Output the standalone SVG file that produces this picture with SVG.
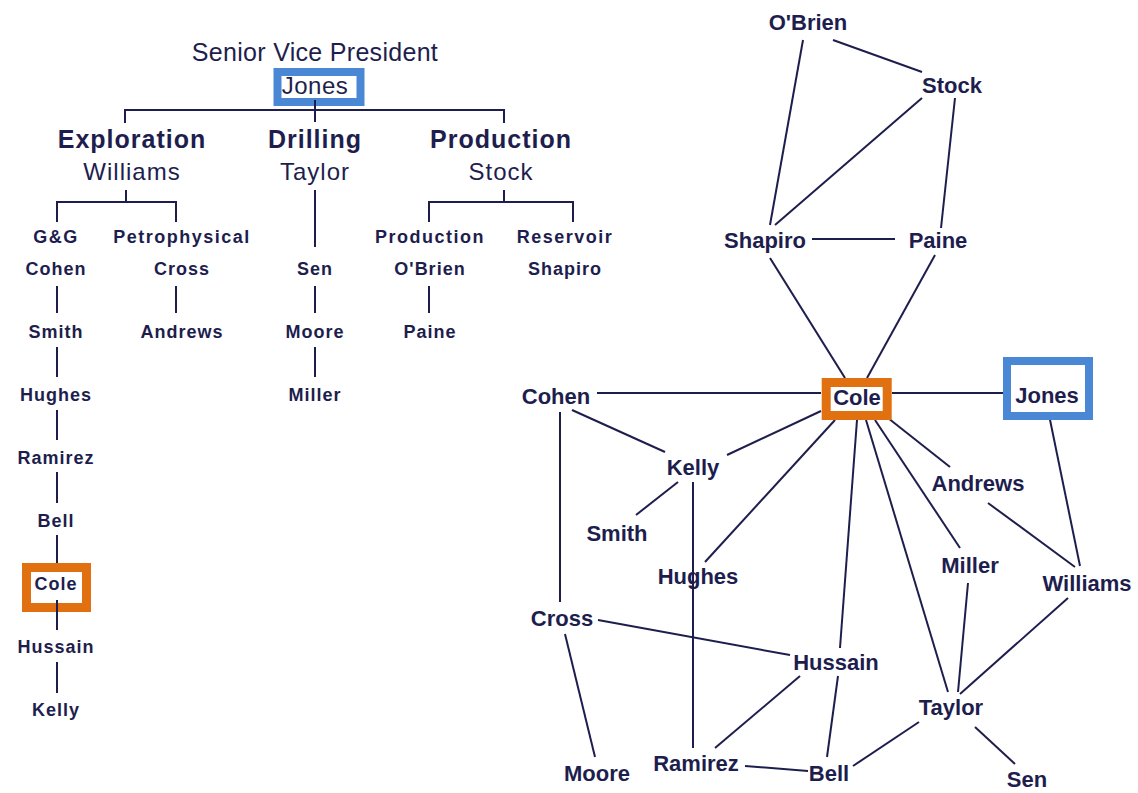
<svg xmlns="http://www.w3.org/2000/svg" width="1138" height="793" viewBox="0 0 1138 793">
<style>
text{font-family:"Liberation Sans",Arial,sans-serif;fill:#1e1e4e;text-anchor:middle}
.t1{font-size:25px;letter-spacing:0.3px}
.h1{font-size:25px;font-weight:bold;letter-spacing:1px}
.r1{font-size:24px;letter-spacing:1px}
.h2{font-size:18px;font-weight:bold;letter-spacing:1.5px}
.n2{font-size:18px;font-weight:bold;letter-spacing:1px}
.g{font-size:22px;font-weight:bold}
.gr{font-size:24px;letter-spacing:0.5px}
.ln line,.ln polyline{stroke:#1e1e4e;stroke-width:2;fill:none}
.bo{fill:#fff;stroke:#e07010;stroke-width:9}
.bb{fill:#fff;stroke:#4a88d6;stroke-width:8}
</style>
<rect width="1138" height="793" fill="#fff"/>

<!-- Left tree nodes -->
<g id="svp"><text class="t1" x="315" y="61">Senior Vice President</text></g>
<g id="t-jones"><rect class="bb" x="277.5" y="72" width="83" height="30"/><text class="gr" x="315" y="94">Jones</text></g>
<g id="t-exploration"><text class="h1" x="132" y="148">Exploration</text><text class="r1" x="132" y="180">Williams</text></g>
<g id="t-drilling"><text class="h1" x="315" y="148">Drilling</text><text class="r1" x="315" y="180">Taylor</text></g>
<g id="t-production"><text class="h1" x="501" y="148">Production</text><text class="r1" x="501" y="180">Stock</text></g>
<g id="t-gg"><text class="h2" x="56" y="243">G&amp;G</text><text class="n2" x="56" y="275">Cohen</text></g>
<g id="t-petro"><text class="h2" x="182" y="243">Petrophysical</text><text class="n2" x="182" y="275">Cross</text></g>
<g id="t-prod2"><text class="h2" x="430" y="243">Production</text><text class="n2" x="430" y="275">O'Brien</text></g>
<g id="t-res"><text class="h2" x="565" y="243">Reservoir</text><text class="n2" x="565" y="275">Shapiro</text></g>
<g id="t-sen"><text class="n2" x="315" y="275">Sen</text></g>
<g id="t-smith"><text class="n2" x="56" y="338">Smith</text></g>
<g id="t-andrews"><text class="n2" x="182" y="338">Andrews</text></g>
<g id="t-moore"><text class="n2" x="315" y="338">Moore</text></g>
<g id="t-paine"><text class="n2" x="430" y="338">Paine</text></g>
<g id="t-hughes"><text class="n2" x="56" y="401">Hughes</text></g>
<g id="t-miller"><text class="n2" x="315" y="401">Miller</text></g>
<g id="t-ramirez"><text class="n2" x="56" y="464">Ramirez</text></g>
<g id="t-bell"><text class="n2" x="56" y="527">Bell</text></g>
<g id="t-cole"><rect class="bo" x="26.5" y="567.5" width="60" height="40"/><text class="n2" x="56" y="590">Cole</text></g>
<g id="t-hussain"><text class="n2" x="56" y="653">Hussain</text></g>
<g id="t-kelly"><text class="n2" x="56" y="716">Kelly</text></g>

<!-- Left tree connectors -->
<g id="tree-connectors" class="ln">
<line x1="315" y1="100" x2="315" y2="110"/>
<polyline points="125,123 125,110 504,110 504,123"/>
<line x1="315" y1="110" x2="315" y2="122"/>
<line x1="126" y1="190" x2="126" y2="202"/>
<polyline points="57,222 57,202 176,202 176,222"/>
<line x1="315" y1="190" x2="315" y2="247"/>
<line x1="504" y1="190" x2="504" y2="202"/>
<polyline points="429,222 429,202 573,202 573,222"/>
<line x1="57" y1="286" x2="57" y2="313"/>
<line x1="57" y1="347" x2="57" y2="377"/>
<line x1="57" y1="410" x2="57" y2="440"/>
<line x1="57" y1="472" x2="57" y2="503"/>
<line x1="57" y1="535" x2="57" y2="563"/>
<line x1="57" y1="600" x2="57" y2="630"/>
<line x1="57" y1="662" x2="57" y2="693"/>
<line x1="176" y1="286" x2="176" y2="313"/>
<line x1="315" y1="286" x2="315" y2="313"/>
<line x1="315" y1="347" x2="315" y2="377"/>
<line x1="429" y1="286" x2="429" y2="313"/>
</g>

<!-- Network connectors -->
<g id="net-connectors" class="ln">
<line x1="833" y1="40" x2="922" y2="72"/>
<line x1="803" y1="40" x2="770" y2="225"/>
<line x1="922" y1="98" x2="775" y2="225"/>
<line x1="955" y1="98" x2="941" y2="228"/>
<line x1="812" y1="239" x2="895" y2="239"/>
<line x1="770" y1="258" x2="845" y2="378"/>
<line x1="935" y1="255" x2="867" y2="378"/>
<line x1="597" y1="393" x2="821" y2="393"/>
<line x1="892" y1="393" x2="1003" y2="393"/>
<line x1="572" y1="410" x2="665" y2="452"/>
<line x1="821" y1="411" x2="727" y2="455"/>
<line x1="678" y1="482" x2="636" y2="515"/>
<line x1="693" y1="482" x2="693" y2="748"/>
<line x1="835" y1="420" x2="705" y2="562"/>
<line x1="857" y1="420" x2="840" y2="648"/>
<line x1="866" y1="420" x2="948" y2="692"/>
<line x1="875" y1="420" x2="960" y2="548"/>
<line x1="888" y1="418" x2="950" y2="467"/>
<line x1="1048" y1="410" x2="1080" y2="566"/>
<line x1="988" y1="503" x2="1075" y2="567"/>
<line x1="968" y1="583" x2="958" y2="692"/>
<line x1="1068" y1="598" x2="960" y2="694"/>
<line x1="560" y1="412" x2="560" y2="602"/>
<line x1="598" y1="620" x2="790" y2="655"/>
<line x1="565" y1="634" x2="595" y2="757"/>
<line x1="800" y1="676" x2="715" y2="748"/>
<line x1="838" y1="676" x2="827" y2="757"/>
<line x1="745" y1="766" x2="808" y2="771"/>
<line x1="853" y1="766" x2="919" y2="722"/>
<line x1="975" y1="727" x2="1015" y2="764"/>
</g>

<!-- Network nodes -->
<g id="n-obrien"><text class="g" x="808" y="30">O'Brien</text></g>
<g id="n-stock"><text class="g" x="952" y="93">Stock</text></g>
<g id="n-shapiro"><text class="g" x="765" y="248">Shapiro</text></g>
<g id="n-paine"><text class="g" x="938" y="248">Paine</text></g>
<g id="n-cole"><rect class="bo" x="826.2" y="382.5" width="61" height="33"/><text class="g" x="857" y="405">Cole</text></g>
<g id="n-jones"><rect class="bb" x="1007" y="361" width="82" height="55"/><text class="g" x="1047" y="403">Jones</text></g>
<g id="n-cohen"><text class="g" x="556" y="404">Cohen</text></g>
<g id="n-kelly"><text class="g" x="693" y="475">Kelly</text></g>
<g id="n-smith"><text class="g" x="617" y="541">Smith</text></g>
<g id="n-andrews"><text class="g" x="978" y="491">Andrews</text></g>
<g id="n-hughes"><text class="g" x="698" y="584">Hughes</text></g>
<g id="n-miller"><text class="g" x="970" y="573">Miller</text></g>
<g id="n-williams"><text class="g" x="1087" y="591">Williams</text></g>
<g id="n-cross"><text class="g" x="562" y="626">Cross</text></g>
<g id="n-hussain"><text class="g" x="836" y="670">Hussain</text></g>
<g id="n-taylor"><text class="g" x="951" y="715">Taylor</text></g>
<g id="n-moore"><text class="g" x="597" y="781">Moore</text></g>
<g id="n-ramirez"><text class="g" x="696" y="771">Ramirez</text></g>
<g id="n-bell"><text class="g" x="829" y="781">Bell</text></g>
<g id="n-sen"><text class="g" x="1027" y="787">Sen</text></g>
</svg>
